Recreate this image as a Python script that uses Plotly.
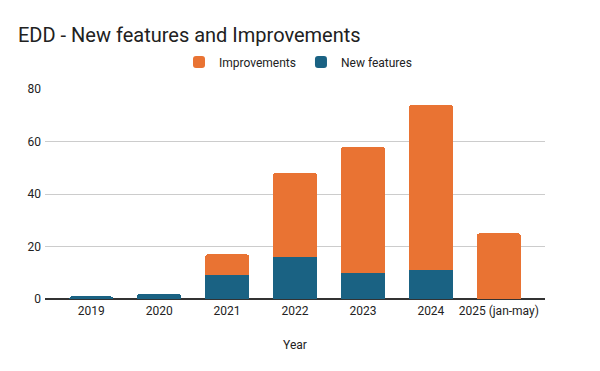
import plotly.graph_objects as go

years = ["2019", "2020", "2021", "2022", "2023", "2024", "2025 (jan-may)"]
new_features = [1, 2, 9, 16, 10, 11, 0]
improvements = [0, 0, 8, 32, 48, 63, 25]
y_ticks = [0, 20, 40, 60, 80]

blue = "#1a6283"
orange = "#e97333"
font = "Roboto"

fig = go.Figure()
fig.add_trace(go.Bar(x=years, y=new_features, name="New features",
                     marker=dict(color=blue, line=dict(width=0)), width=0.64))
fig.add_trace(go.Bar(x=years, y=improvements, name="Improvements",
                     marker=dict(color=orange, line=dict(width=0)), width=0.64))

fig.update_layout(
    width=600, height=371,
    barmode="stack",
    barcornerradius=2,
    paper_bgcolor="white", plot_bgcolor="white",
    font=dict(family=font, size=12, color="#222222"),
    margin=dict(l=45, r=55, t=89, b=72, autoexpand=False),
    title=dict(text="EDD - New features and Improvements", x=18/600, xanchor="left",
               xref="container", y=1-35/371, yanchor="middle", yref="container",
               font=dict(family=font, size=20, color="#212121")),
    legend=dict(orientation="h", traceorder="reversed", xref="container", x=298/600,
                xanchor="center", yref="container", y=1-62/371, yanchor="middle",
                font=dict(family=font, size=12, color="#222222"),
                itemwidth=30, itemsizing="constant"),
    showlegend=True,
)
fig.update_xaxes(type="category", range=[-0.68, 6.68], showgrid=False, ticks="",
                 showline=False, tickfont=dict(size=12, color="#222222"),
                 ticklabelstandoff=3,
                 title=dict(text="Year", standoff=23, font=dict(size=12, color="#222222")))
fig.update_yaxes(range=[0, 80], tickvals=y_ticks, showgrid=True, gridcolor="#cccccc",
                 gridwidth=1, zeroline=True, zerolinecolor="#333333", zerolinewidth=1.5,
                 ticks="", showline=False, tickfont=dict(size=12, color="#222222"),
                 ticklabelstandoff=3)

fig.write_html("out.html", config={"displayModeBar": False},
               post_script="document.body.style.margin='0';")
